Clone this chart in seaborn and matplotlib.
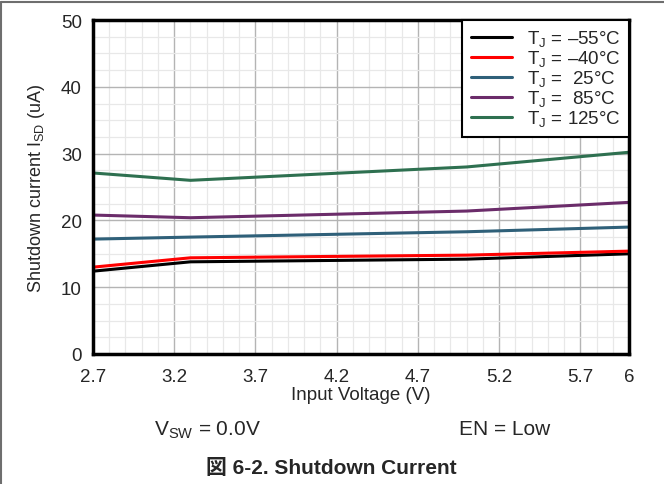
import numpy as np
import pandas as pd
import matplotlib
matplotlib.use('Agg')
import matplotlib.pyplot as plt
from matplotlib.ticker import MultipleLocator, FixedLocator
from matplotlib.lines import Line2D
import seaborn as sns

# data
vin = [2.7, 3.3, 5.0, 6.0]
i_m55 = [12.4, 13.8, 14.2, 15.0]
i_m40 = [13.0, 14.4, 14.8, 15.4]
i_25 = [17.2, 17.5, 18.3, 19.0]
i_85 = [20.8, 20.4, 21.4, 22.7]
i_125 = [27.1, 26.0, 28.0, 30.2]
labels = ['T$_\\mathrm{J}$ = \u201355°C', 'T$_\\mathrm{J}$ = \u201340°C',
          'T$_\\mathrm{J}$ =  25°C', 'T$_\\mathrm{J}$ =  85°C',
          'T$_\\mathrm{J}$ = 125°C']
colors = ['#000000', '#ff0000', '#2f6079', '#6b2c6a', '#2e7050']
xticks = [2.7, 3.2, 3.7, 4.2, 4.7, 5.2, 5.7, 6.0]
xticklabels = ['2.7', '3.2', '3.7', '4.2', '4.7', '5.2', '5.7', '6']

df = pd.DataFrame({
    'vin': vin * 5,
    'isd': i_m55 + i_m40 + i_25 + i_85 + i_125,
    'tj': sum([[l] * len(vin) for l in labels], []),
})

sns.set_style('white')
plt.rcParams['font.family'] = ['Liberation Sans', 'Noto Sans CJK JP', 'DejaVu Sans']
plt.rcParams['mathtext.fontset'] = 'custom'
plt.rcParams['mathtext.rm'] = 'Liberation Sans'
plt.rcParams['mathtext.it'] = 'Liberation Sans:italic'
plt.rcParams['mathtext.bf'] = 'Liberation Sans:bold'

fig = plt.figure(figsize=(6.64, 4.85), dpi=100)
ax = fig.add_axes([93 / 664, 1 - 355 / 485, 536 / 664, 334 / 485])

sns.lineplot(data=df, x='vin', y='isd', hue='tj', palette=colors,
             linewidth=2.2, ax=ax, legend=False)

ax.set_xlim(2.7, 6.0)
ax.set_ylim(0, 50)
ax.xaxis.set_major_locator(FixedLocator(xticks))
ax.set_xticklabels(xticklabels)
ax.xaxis.set_minor_locator(MultipleLocator(0.1))
ax.yaxis.set_major_locator(MultipleLocator(10))
ax.yaxis.set_minor_locator(MultipleLocator(2.5))
ax.grid(which='major', color='#b4b4b4', linewidth=1.0)
ax.grid(which='minor', color='#e8e8e8', linewidth=0.9)
ax.set_axisbelow(True)
for s in ax.spines.values():
    s.set_color('black')
    s.set_linewidth(2.5)
ax.tick_params(axis='x', which='both', length=0, labelsize=13.5, pad=10)
ax.tick_params(axis='y', which='both', length=0, labelsize=13.5, pad=8)

ax.set_xlabel('Input Voltage (V)', fontsize=13.5, labelpad=1)
ax.set_ylabel('Shutdown current I$_\\mathrm{SD}$ (uA)', fontsize=13, labelpad=10)

handles = [Line2D([], [], color=c, linewidth=2.2) for c in colors]
leg = ax.legend(handles, labels, loc='upper right', borderaxespad=0,
                fontsize=13.5, handlelength=2.2, labelspacing=0.0,
                frameon=True, fancybox=False, borderpad=0.45)
leg.get_frame().set_edgecolor('black')
leg.get_frame().set_linewidth(1.5)
leg.get_frame().set_alpha(1)

fig.text(207 / 664, 1 - 430 / 485, 'V$_\\mathrm{SW}$ = 0.0V', fontsize=15,
         ha='center', va='center')
fig.text(505 / 664, 1 - 430 / 485, 'EN = Low', fontsize=15,
         ha='center', va='center')
fig.text(331 / 664, 1 - 469 / 485, '図 6-2. Shutdown Current', fontsize=15,
         fontweight='bold', ha='center', va='center',
         family=['Liberation Sans', 'Noto Sans CJK JP'])

# page frame lines on top and left
fig.add_artist(Line2D([0.002, 0.002], [0, 0.993], color='#6e6e6e', linewidth=1.5))
fig.add_artist(Line2D([0.002, 1], [0.993, 0.993], color='#6e6e6e', linewidth=1.5))

fig.savefig('out.png', dpi=100)
